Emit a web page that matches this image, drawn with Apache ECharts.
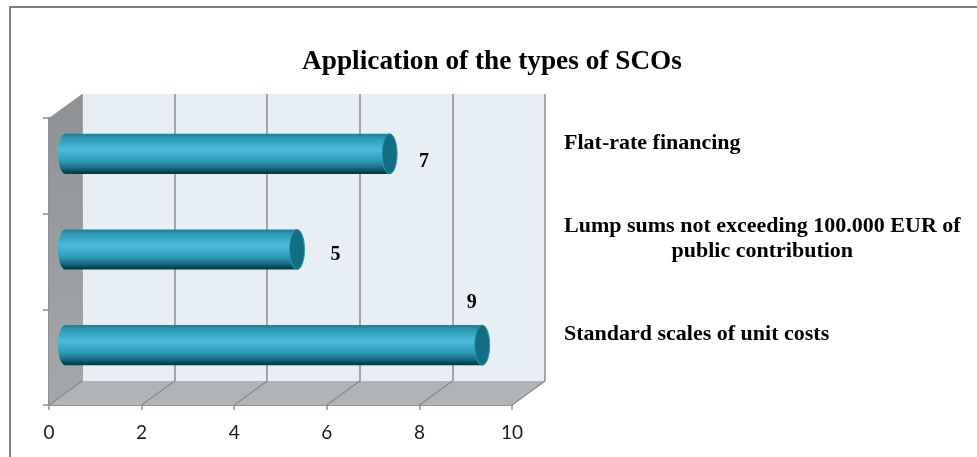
<!DOCTYPE html>
<html>
<head>
<meta charset="utf-8">
<script src="https://cdn.jsdelivr.net/npm/echarts@6/dist/echarts.min.js"></script>
<style>
    html, body { margin: 0; padding: 0; background: #fff; }
    #scoChart { width: 977px; height: 457px; }
</style>
</head>
<body>
<div id="scoChart"></div>
<script>
var chartTitle = 'Application of the types of SCOs';
var categories = ['Standard scales of unit costs', 'Lump sums not exceeding 100.000 EUR of\npublic contribution', 'Flat-rate financing'];
var values = [9, 5, 7];
var xTicks = [0, 2, 4, 6, 8, 10];

// fake 3D: the back wall is the front grid moved by this much
var DEPTH_X = 33;
var DEPTH_Y = -24;
// the value labels sit by hand in the original, not on the bar ends
var labelShift = [[-18, -42], [31, 5], [27, 8]];

var serif = '"Liberation Serif", serif';
var chart = echarts.init(document.getElementById('scoChart'));

// side wall, floor and the slanted floor lines
function renderShell(params, api) {
    var c = params.coordSys;
    var left = c.x, right = c.x + c.width, top = c.y, bottom = c.y + c.height;
    var children = [
        {
            type: 'polygon',
            shape: { points: [[left, top], [left + DEPTH_X, top + DEPTH_Y], [left + DEPTH_X, bottom + DEPTH_Y], [left, bottom]] },
            style: { fill: new echarts.graphic.LinearGradient(0, 0, 0, 1, [{ offset: 0, color: '#8e9294' }, { offset: 1, color: '#a3a8aa' }]) }
        },
        {
            type: 'polygon',
            shape: { points: [[left, bottom], [right, bottom], [right + DEPTH_X, bottom + DEPTH_Y], [left + DEPTH_X, bottom + DEPTH_Y]] },
            style: { fill: '#aeb4b7' }
        }
    ];
    xTicks.forEach(function (t) {
        var p = api.coord([t, 0]);
        children.push({
            type: 'line',
            shape: { x1: p[0], y1: bottom, x2: p[0] + DEPTH_X, y2: bottom + DEPTH_Y },
            style: { stroke: '#85898b', lineWidth: 1.2 }
        });
    });
    return { type: 'group', children: children };
}

// one cylinder per value, half way into the depth of the box
function renderBar(params, api) {
    var y0 = api.coord([0, api.value(1)]);
    var y1 = api.coord([api.value(0), api.value(1)]);
    var h = api.size([0, 1])[1] * 0.42;
    var cy = y0[1] + DEPTH_Y / 2;
    var x0 = y0[0] + DEPTH_X / 2;
    var x1 = y1[0] + DEPTH_X / 2;
    var rx = 7.5;
    var body = new echarts.graphic.LinearGradient(0, 0, 0, 1, [
        { offset: 0, color: '#1b7f95' },
        { offset: 0.12, color: '#2f9ab4' },
        { offset: 0.4, color: '#4bbcdc' },
        { offset: 0.7, color: '#2f97b3' },
        { offset: 0.87, color: '#13667b' },
        { offset: 0.97, color: '#013c4b' },
        { offset: 1, color: '#02404f' }
    ]);
    var shift = labelShift[params.dataIndex];
    return {
        type: 'group',
        children: [
            { type: 'ellipse', shape: { cx: x0, cy: cy, rx: rx, ry: h / 2 }, style: { fill: body } },
            { type: 'rect', shape: { x: x0, y: cy - h / 2, width: x1 - x0, height: h }, style: { fill: body } },
            { type: 'ellipse', shape: { cx: x1, cy: cy, rx: rx, ry: h / 2 }, style: { fill: '#126f83', stroke: '#2a9bb6', lineWidth: 1 } },
            {
                type: 'text',
                x: x1 + rx + shift[0],
                y: cy + shift[1],
                style: { text: String(api.value(0)), fill: '#000', font: 'bold 20px ' + serif, align: 'center', verticalAlign: 'middle' }
            }
        ]
    };
}

chart.setOption({
    animation: false,
    backgroundColor: '#fff',
    title: {
        text: chartTitle,
        left: 487,
        top: 43,
        textAlign: 'center',
        textStyle: { fontFamily: serif, fontSize: 27.3, fontWeight: 'bold', color: '#000' }
    },
    graphic: [{
        type: 'rect',
        shape: { x: 10, y: 7, width: 1000, height: 500 },
        style: { fill: 'none', stroke: '#7f7f7f', lineWidth: 2 },
        silent: true
    }],
    grid: [
        { left: 49 + DEPTH_X, right: 465 - DEPTH_X, top: 118 + DEPTH_Y, bottom: 52 - DEPTH_Y, show: true, backgroundColor: '#e7eef4', borderWidth: 0 },
        { left: 49, right: 465, top: 118, bottom: 52 }
    ],
    xAxis: [
        {
            gridIndex: 0, type: 'value', min: 0, max: 10, interval: 2,
            axisLine: { show: false }, axisTick: { show: false }, axisLabel: { show: false },
            splitLine: { show: true, lineStyle: { color: '#8b8d8e', width: 1.5 } }
        },
        {
            gridIndex: 1, type: 'value', min: 0, max: 10, interval: 2, position: 'bottom',
            axisLine: { show: true, onZero: false, lineStyle: { color: '#8f9294', width: 2 } },
            axisTick: { show: true, length: 5, lineStyle: { color: '#8f9294', width: 1.5 } },
            axisLabel: { margin: 18, color: '#1a1a1a', fontFamily: 'Lato', fontSize: 19 },
            splitLine: { show: false }
        }
    ],
    yAxis: [
        {
            gridIndex: 0, type: 'category', data: categories, position: 'right',
            axisLine: { show: false }, axisTick: { show: false },
            axisLabel: {
                margin: 19,
                align: 'left',
                padding: [2, 0, 0, 0],
                formatter: function (v) {
                    return v.split('\n').map(function (line) { return '{c|' + line + '}'; }).join('\n');
                },
                rich: { c: { align: 'center', color: '#000', fontFamily: serif, fontSize: 22, fontWeight: 'bold', lineHeight: 25 } }
            }
        },
        {
            gridIndex: 1, type: 'category', data: categories,
            axisLine: { show: true, onZero: false, lineStyle: { color: '#8f9294', width: 2 } },
            axisTick: { show: true, length: 6, lineStyle: { color: '#8f9294', width: 1.5 } },
            axisLabel: { show: false }
        }
    ],
    series: [
        {
            type: 'custom',
            xAxisIndex: 1,
            yAxisIndex: 1,
            z: 1,
            silent: true,
            clip: false,
            renderItem: renderShell,
            data: [0]
        },
        {
            type: 'custom',
            xAxisIndex: 1,
            yAxisIndex: 1,
            z: 5,
            silent: true,
            clip: false,
            encode: { x: 0, y: 1 },
            renderItem: renderBar,
            data: values.map(function (v, i) { return [v, i]; })
        }
    ]
});
</script>
</body>
</html>
